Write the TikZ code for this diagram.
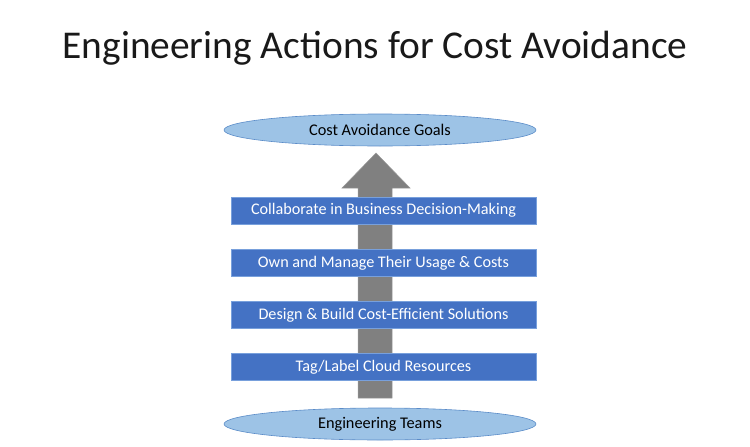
\documentclass[tikz,border=0pt]{standalone}
\usepackage{fontspec}
\setmainfont{Carlito}
\usetikzlibrary{shapes.geometric}
\definecolor{ellfill}{RGB}{157,195,230}
\definecolor{ellline}{RGB}{91,140,200}
\definecolor{boxfill}{RGB}{68,114,196}
\definecolor{boxline}{RGB}{120,160,220}
\definecolor{arrfill}{RGB}{128,128,128}
\tikzset{
  goal/.style={ellipse, draw=ellline, line width=0.6pt, fill=ellfill, minimum width=312pt, minimum height=32pt, inner sep=0pt, font=\fontsize{16.3}{18}\selectfont, text=black},
  action/.style={rectangle, draw=boxline, line width=0.5pt, fill=boxfill, minimum width=305pt, minimum height=27pt, inner sep=0pt, font=\fontsize{16.2}{18}\selectfont, text=white},
  bigarrow/.style={fill=arrfill, draw=arrfill!80!white, line width=0.5pt}
}
\begin{document}
\begin{tikzpicture}[x=1pt,y=-1pt]
\useasboundingbox (0,0) rectangle (750,447);
\node[font=\fontsize{39.4}{44}\selectfont, text=black!90] (title) at (375,48) {Engineering Actions for Cost Avoidance};
\node[goal] (goals) at (380,130) {Cost Avoidance Goals};
\node[goal] (teams) at (380,424) {Engineering Teams};
\draw[bigarrow] (358,398) -- (392,398) -- (392,188) -- (410,188) -- (376,153) -- (342,188) -- (358,188) -- cycle;
\node[action] (a1) at (383.5,210.5) {Collaborate in Business Decision-Making};
\node[action] (a2) at (383.5,263) {Own and Manage Their Usage \& Costs};
\node[action] (a3) at (383.5,315) {Design \& Build Cost-Efficient Solutions};
\node[action] (a4) at (383.5,367) {Tag/Label Cloud Resources};
\end{tikzpicture}
\end{document}
